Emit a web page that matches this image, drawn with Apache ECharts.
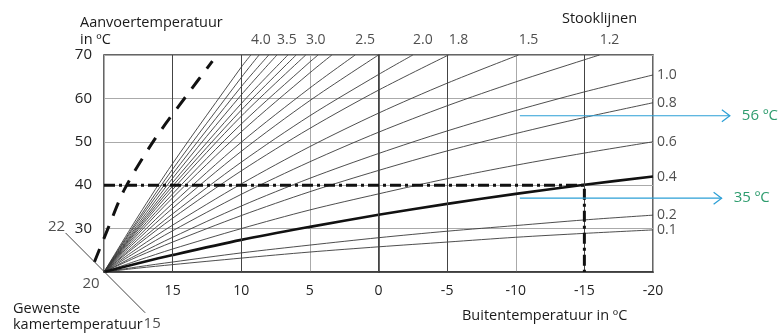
<!DOCTYPE html>
<html>
<head>
<meta charset="utf-8">
<script src="https://cdn.jsdelivr.net/npm/echarts@6/dist/echarts.min.js"></script>
<style>
  html, body { margin: 0; padding: 0; background: #fff; }
  #chart { width: 781px; height: 333px; }
</style>
</head>
<body>
<div id="chart"></div>
<script>
var outsideTemps = [20, 17.5, 15, 10, 5, 0, -5, -10, -15, -20];

// stooklijnen: label (leeg = tussenlijn zonder label)
var curveLabels = ['4.0', '', '', '3.5', '', '', '3.0', '', '', '2.5', '', '2.0', '1.8', '1.5', '1.2',
                   '1.0', '0.8', '0.6', '0.4', '0.2', '0.1'];

var flowTemps = [
  [20, 32.9, 45.0, 67.2],
  [20, 32.2, 43.7, 64.8],
  [20, 31.7, 42.6, 62.7],
  [20, 31.1, 41.6, 60.8],
  [20, 30.6, 40.6, 58.8],
  [20, 30.2, 39.8, 57.3],
  [20, 29.8, 39.0, 55.9],
  [20, 29.3, 38.0, 54.1, 68.4],
  [20, 28.8, 37.1, 52.3, 65.9],
  [20, 28.2, 35.8, 49.9, 62.4],
  [20, 27.6, 34.7, 47.8, 59.5],
  [20, 26.9, 33.4, 45.3, 56.0, 65.5],
  [20, 26.4, 32.4, 43.3, 53.1, 61.9],
  [20, 25.6, 30.8, 40.3, 48.9, 56.6, 63.5],
  [20, 24.9, 29.5, 37.9, 45.4, 52.2, 58.3, 63.8, 68.9],
  [20, 24.1, 28.0, 35.2, 41.6, 47.3, 52.5, 57.2, 61.5, 65.4],
  [20, 23.6, 26.9, 33.0, 38.5, 43.4, 47.9, 51.9, 55.6, 59.0],
  [20, 22.7, 25.3, 30.0, 34.3, 38.0, 41.5, 44.6, 47.4, 50.0],
  [20, 22.0, 23.9, 27.4, 30.4, 33.2, 35.7, 38.0, 40.1, 42.0],
  [20, 21.2, 22.3, 24.4, 26.2, 27.9, 29.4, 30.7, 32.0, 33.1],
  [20, 20.9, 21.7, 23.2, 24.6, 25.8, 26.9, 28.0, 28.9, 29.7]
];

// buitentemperatuur waar een lijn de bovenrand (70) raakt
var exitTemps = [9.3, 8.7, 8.0, 7.4, 6.6, 6.0, 5.3, 4.4, 3.4, 1.7, 0.0, -2.5, -5.1, -10.2, -16.1,
                 null, null, null, null, null, null];
var maxFlow = 70;
var boldCurve = '0.4';

// donkere verticale rasterlijnen
var darkGridX = [15, 10, 0, -5, -15];

// ontwerppunt (streep-punt lijn)
var designLine = [[20, 40], [-15, 40], [-15, 20]];

// verschoven stooklijn (gestreept)
var shiftedCurve = [[20.7, 22.3], [19.7, 30.1], [18.5, 39.1], [16.3, 50.6], [13.9, 61.0], [12.1, 68.6]];

// schaal gewenste kamertemperatuur
var roomPoints = [[22.8, 29.0], [20, 20], [17.0, 10.6]];
var roomLabels = ['22', '20', '15'];

// blauwe pijlen
var arrowFrom = [-10.3, -10.3];
var arrowTo = [-25.6, -25.0];
var arrowFlow = [56, 37];
var arrowLabels = ['56 ºC', '35 ºC'];

var FONT = '"Open Sans", "DejaVu Sans", sans-serif';
var myChart = echarts.init(document.getElementById('chart'));

var series = [];

// donkere rasterlijnen
series.push({
  type: 'line', data: [], z: 1, silent: true,
  markLine: {
    silent: true, symbol: 'none', label: { show: false },
    lineStyle: { color: '#444', width: 1, type: 'solid' },
    data: darkGridX.map(function (v) { return { xAxis: v }; })
  }
});

for (var i = 0; i < flowTemps.length; i++) {
  var pts = [];
  for (var j = 0; j < flowTemps[i].length; j++) {
    pts.push([outsideTemps[j], flowTemps[i][j]]);
  }
  if (exitTemps[i] !== null) pts.push([exitTemps[i], maxFlow]);
  var bold = curveLabels[i] === boldCurve;
  series.push({
    type: 'line',
    data: pts,
    smooth: 0.3,
    symbol: 'none',
    silent: true,
    z: bold ? 4 : 3,
    lineStyle: { color: bold ? '#111' : '#3a3a3a', width: bold ? 2.6 : 0.9 }
  });
}

// labels van de stooklijnen
var topLabelPts = [], rightLabelPts = [];
for (var k = 0; k < curveLabels.length; k++) {
  if (!curveLabels[k]) continue;
  if (exitTemps[k] !== null) {
    topLabelPts.push({ value: [exitTemps[k], maxFlow], name: curveLabels[k] });
  } else {
    var row = flowTemps[k];
    rightLabelPts.push({ value: [outsideTemps[row.length - 1], row[row.length - 1]], name: curveLabels[k] });
  }
}
series.push({
  type: 'scatter', data: topLabelPts, symbolSize: 0, clip: false, silent: true,
  label: { show: true, position: 'inside', offset: [10, -15], formatter: '{b}',
    color: '#222', fontSize: 14, fontFamily: FONT }
});
series.push({
  type: 'scatter', data: rightLabelPts, symbolSize: 0, clip: false, silent: true,
  label: { show: true, position: 'right', distance: 4, formatter: '{b}',
    color: '#222', fontSize: 14, fontFamily: FONT }
});

// ontwerplijn
series.push({
  type: 'line', data: designLine, symbol: 'none', silent: true, z: 6,
  lineStyle: { color: '#111', width: 3, type: [11, 4, 3, 4] }
});

// verschoven stooklijn + kamertemperatuur schaal (buiten het raster, dus custom)
series.push({
  type: 'custom', clip: false, silent: true, z: 6,
  data: [0],
  renderItem: function (params, api) {
    var curve = shiftedCurve.map(function (p) { return api.coord(p); });
    var r0 = api.coord(roomPoints[0]);
    var r1 = api.coord(roomPoints[2]);
    return {
      type: 'group',
      children: [
        { type: 'polyline', shape: { points: curve, smooth: 0.3 },
          style: { stroke: '#111', fill: null, lineWidth: 3, lineDash: [14, 11] } },
        { type: 'line', shape: { x1: r0[0], y1: r0[1], x2: r1[0], y2: r1[1] },
          style: { stroke: '#444', lineWidth: 1 } }
      ]
    };
  }
});
var roomOffsets = [[-9, -6], [-13, 12], [7, 11]];
series.push({
  type: 'scatter', symbolSize: 0, clip: false, silent: true,
  data: roomPoints.map(function (p, n) {
    return { value: p, name: roomLabels[n], label: { offset: roomOffsets[n] } };
  }),
  label: { show: true, position: 'inside', formatter: '{b}', color: '#222', fontSize: 15, fontFamily: FONT }
});

// pijlen
series.push({
  type: 'custom', clip: false, silent: true, z: 8,
  data: arrowFlow.map(function (v, n) { return [arrowFrom[n], v, arrowTo[n]]; }),
  renderItem: function (params, api) {
    var p0 = api.coord([api.value(0), api.value(1)]);
    var p1 = api.coord([api.value(2), api.value(1)]);
    return {
      type: 'group',
      children: [
        { type: 'line', shape: { x1: p0[0], y1: p0[1], x2: p1[0], y2: p1[1] },
          style: { stroke: '#2b9fd6', lineWidth: 1.2 } },
        { type: 'polyline', shape: { points: [[p1[0] - 8, p1[1] - 6], [p1[0], p1[1]], [p1[0] - 8, p1[1] + 6]] },
          style: { stroke: '#2b9fd6', fill: null, lineWidth: 1.2 } },
        { type: 'text', x: p1[0] + 12, y: p1[1],
          style: { text: arrowLabels[params.dataIndex], fill: '#2e9c6e', font: '15px ' + FONT,
            verticalAlign: 'middle', align: 'left' } }
      ]
    };
  }
});

var TITLE = '14.5px ' + FONT;
var option = {
  animation: false,
  grid: { left: 104, top: 55, width: 549, height: 217, show: true, borderColor: '#333', borderWidth: 1.5, backgroundColor: 'transparent' },
  xAxis: {
    type: 'value', inverse: true, min: -20, max: 20, interval: 5,
    axisLine: { show: true, lineStyle: { color: '#333', width: 1.5 } },
    axisTick: { show: false },
    axisLabel: { margin: 12, color: '#222', fontSize: 14, fontFamily: FONT,
      formatter: function (v) { return v === 20 ? '' : String(v); } },
    splitLine: { show: true, lineStyle: { width: 1, color: '#aaa' } }
  },
  yAxis: {
    type: 'value', min: 20, max: 70, interval: 10,
    axisLine: { show: true, lineStyle: { color: '#333', width: 1.5 } },
    axisTick: { show: false },
    axisLabel: { margin: 12, color: '#222', fontSize: 15, fontFamily: FONT,
      formatter: function (v) { return v === 20 ? '' : String(v); } },
    splitLine: { show: true, lineStyle: { color: '#aaa', width: 1.2 } }
  },
  graphic: [
    { type: 'text', left: 80, top: 15, style: { text: 'Aanvoertemperatuur', font: TITLE, fill: '#1a1a1a' } },
    { type: 'text', left: 80, top: 32, style: { text: 'in ºC', font: TITLE, fill: '#1a1a1a' } },
    { type: 'text', left: 562, top: 11, style: { text: 'Stooklijnen', font: TITLE, fill: '#1a1a1a' } },
    { type: 'text', left: 462, top: 308, style: { text: 'Buitentemperatuur in ºC', font: TITLE, fill: '#1a1a1a' } },
    { type: 'text', left: 13, top: 301, style: { text: 'Gewenste', font: TITLE, fill: '#1a1a1a' } },
    { type: 'text', left: 13, top: 317, style: { text: 'kamertemperatuur', font: TITLE, fill: '#1a1a1a' } }
  ],
  series: series
};
myChart.setOption(option);
</script>
</body>
</html>
